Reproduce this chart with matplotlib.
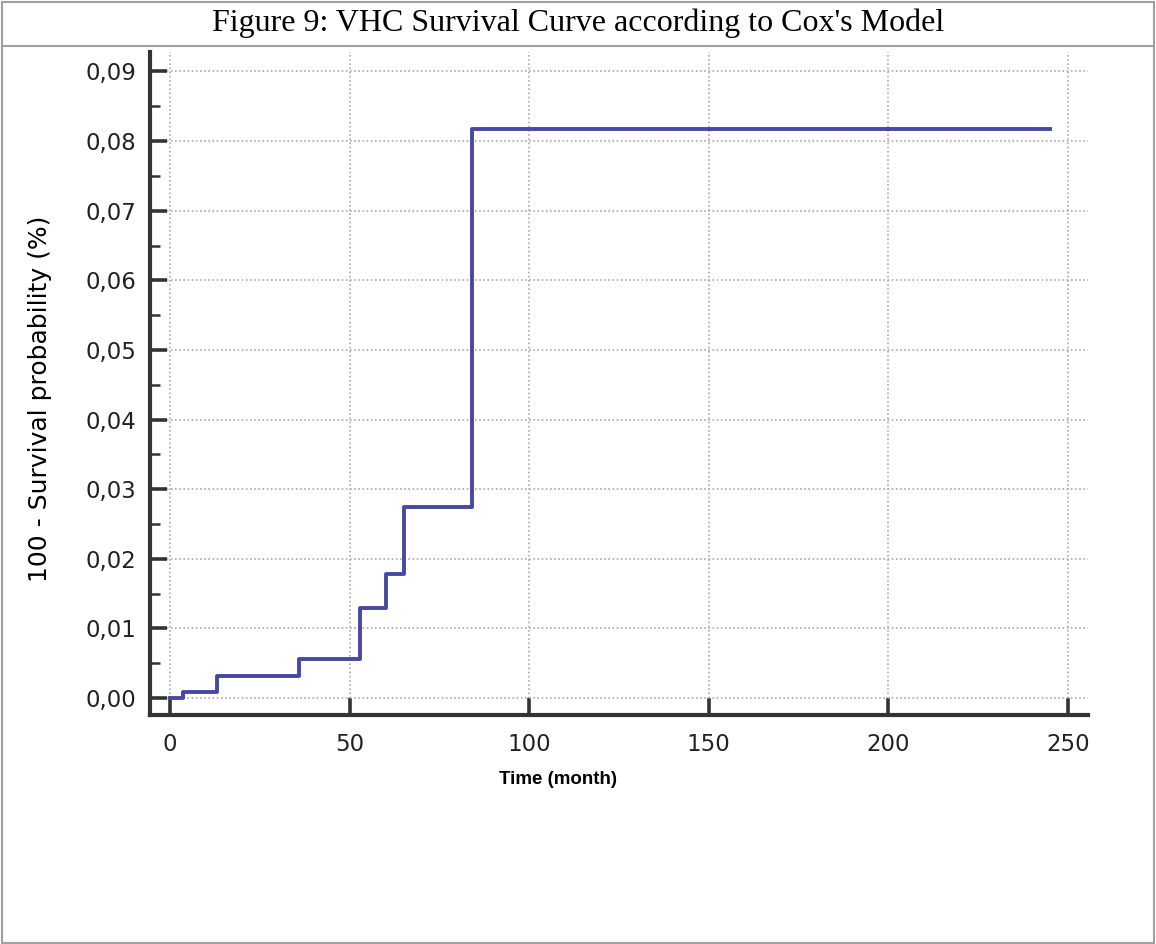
import matplotlib
matplotlib.use("Agg")
import matplotlib.pyplot as plt
from matplotlib.ticker import MultipleLocator, FuncFormatter
from matplotlib.patches import Rectangle
from matplotlib.lines import Line2D

# step points of the cumulative curve (time in months, 100 - survival)
times = [0, 3.5, 13, 36, 53, 60, 65, 84, 245]
values = [0.0, 0.0008, 0.0031, 0.0056, 0.0129, 0.0178, 0.0275, 0.0818, 0.0818]

x_ticks = [0, 50, 100, 150, 200, 250]
y_ticks = [0.00, 0.01, 0.02, 0.03, 0.04, 0.05, 0.06, 0.07, 0.08, 0.09]

fig = plt.figure(figsize=(11.56, 9.44), dpi=100)

# table frame around the figure
frame = "#a0a0a0"
fig.add_artist(Rectangle((0.002, 0.001), 0.996, 0.997, transform=fig.transFigure,
                         fill=False, edgecolor=frame, lw=1.5))
fig.add_artist(Line2D([0.002, 0.998], [1 - 46 / 944, 1 - 46 / 944],
                      transform=fig.transFigure, color=frame, lw=1.5))
fig.text(0.5, 1 - 23 / 944, "Figure 9: VHC Survival Curve according to Cox's Model",
         ha="center", va="center", family="Liberation Serif", fontsize=23)

ax = fig.add_axes([150 / 1156, 1 - 715 / 944, 938 / 1156, 663 / 944])
ax.step(times, values, where="post", color="#4848a4", lw=2.8)

ax.set_xlim(-5.6, 255.6)
ax.set_ylim(-0.00244, 0.0928)

ax.spines["top"].set_visible(False)
ax.spines["right"].set_visible(False)
for s in ("left", "bottom"):
    ax.spines[s].set_linewidth(3)
    ax.spines[s].set_color("#333333")

ax.set_xticks(x_ticks)
ax.set_yticks(y_ticks)
ax.yaxis.set_minor_locator(MultipleLocator(0.005))
ax.yaxis.set_major_formatter(FuncFormatter(lambda v, p: f"{v:.2f}".replace(".", ",")))
ax.tick_params(axis="both", which="major", direction="in", length=12, width=2.6,
               color="#333333", labelsize=16.5, labelcolor="#222222")
ax.tick_params(axis="y", which="minor", direction="in", length=7, width=1.8, color="#333333")
ax.tick_params(axis="x", pad=13)
ax.tick_params(axis="y", pad=10)
for lab in ax.get_xticklabels() + ax.get_yticklabels():
    lab.set_family("DejaVu Sans")

ax.grid(True, which="major", linestyle=(0, (1, 1.5)), color="#aaaaaa", lw=1.2)

ax.set_xlabel("Time (month)", family="Liberation Sans", fontweight="bold",
              fontsize=13.5)
ax.xaxis.set_label_coords(0.435, -0.084)
ax.set_ylabel("100 - Survival probability (%)", family="DejaVu Sans", fontsize=18)
ax.yaxis.set_label_coords(-0.104, 0.477)

fig.savefig("out.png", dpi=100)
